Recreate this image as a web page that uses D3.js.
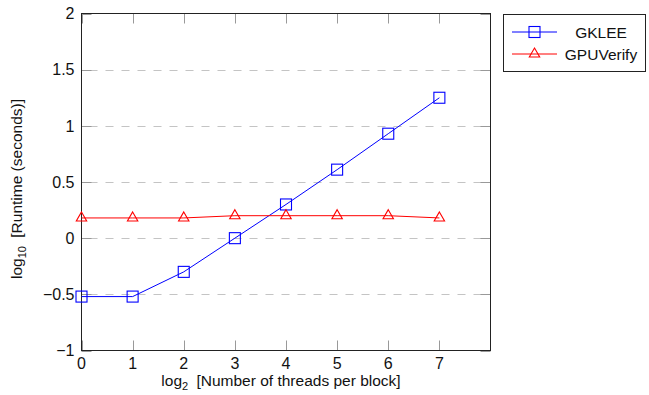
<!DOCTYPE html>
<html>
<head>
<meta charset="utf-8">
<script src="https://cdn.jsdelivr.net/npm/d3@7"></script>
<style>
  body { margin: 0; background: #fff; }
  svg { display: block; font-family: "Liberation Sans", Arial, sans-serif; }
</style>
</head>
<body>
<div id="chart"></div>
<script>
// data
const threads = [0, 1, 2, 3, 4, 5, 6, 7];          // log2 threads per block
const gklee = [-0.52, -0.52, -0.30, 0.0, 0.30, 0.61, 0.93, 1.25];
const gpuVerify = [0.18, 0.18, 0.18, 0.20, 0.20, 0.20, 0.20, 0.18];
const xTicks = [0, 1, 2, 3, 4, 5, 6, 7];
const yTicks = [-1, -0.5, 0, 0.5, 1, 1.5, 2];
const gridTicks = [-0.5, 0, 0.5, 1, 1.5];

const width = 649, height = 395;
const plotLeft = 81.5, plotTop = 13.5, plotRight = 490.5, plotBottom = 350.5;

const svg = d3.select("#chart").append("svg")
  .attr("width", width)
  .attr("height", height);

const x = d3.scaleLinear().domain([0, 8]).range([plotLeft, plotRight]);
const y = d3.scaleLinear().domain([-1, 2]).range([plotBottom, plotTop]);

// dashed grid
svg.append("g")
  .selectAll("line")
  .data(gridTicks)
  .enter().append("line")
  .attr("x1", plotLeft).attr("x2", plotRight)
  .attr("y1", d => Math.round(y(d)) + 0.5)
  .attr("y2", d => Math.round(y(d)) + 0.5)
  .attr("stroke", "#c4c4c4")
  .attr("stroke-width", 1.2)
  .attr("stroke-dasharray", "8,8")
  .attr("stroke-dashoffset", 8);

// inside ticks on all four sides
const tickLen = 10;
const tickG = svg.append("g").attr("stroke", "#999").attr("stroke-width", 1);
xTicks.forEach(t => {
  const px = Math.round(x(t)) + 0.5;
  tickG.append("line").attr("x1", px).attr("x2", px).attr("y1", plotBottom).attr("y2", plotBottom - tickLen);
  tickG.append("line").attr("x1", px).attr("x2", px).attr("y1", plotTop).attr("y2", plotTop + tickLen);
});
yTicks.forEach(t => {
  const py = Math.round(y(t)) + 0.5;
  tickG.append("line").attr("x1", plotLeft).attr("x2", plotLeft + tickLen).attr("y1", py).attr("y2", py);
  tickG.append("line").attr("x1", plotRight).attr("x2", plotRight - tickLen).attr("y1", py).attr("y2", py);
});

// frame
svg.append("rect")
  .attr("x", plotLeft).attr("y", plotTop)
  .attr("width", plotRight - plotLeft).attr("height", plotBottom - plotTop)
  .attr("fill", "none")
  .attr("stroke", "#222")
  .attr("stroke-width", 1);

// tick labels
const fmt = d => (d < 0 ? "\u2212" : "") + Math.abs(d);
svg.append("g")
  .selectAll("text")
  .data(yTicks)
  .enter().append("text")
  .attr("x", plotLeft - 7)
  .attr("y", d => y(d))
  .attr("dy", "0.36em")
  .attr("text-anchor", "end")
  .attr("font-size", 16)
  .attr("fill", "#111")
  .text(fmt);

svg.append("g")
  .selectAll("text")
  .data(xTicks)
  .enter().append("text")
  .attr("x", d => x(d))
  .attr("y", 368.5)
  .attr("text-anchor", "middle")
  .attr("font-size", 16)
  .attr("fill", "#111")
  .text(d => d);

// axis titles with subscripts
const xTitle = svg.append("text")
  .attr("x", 281).attr("y", 386)
  .attr("text-anchor", "middle")
  .attr("font-size", 15.5)
  .attr("fill", "#111");
xTitle.append("tspan").text("log");
xTitle.append("tspan").attr("font-size", 11).attr("dy", 4).text("2");
xTitle.append("tspan").attr("dy", -4).attr("dx", 4).text(" [Number of threads per block]");

const yTitle = svg.append("text")
  .attr("transform", "translate(22,189) rotate(-90)")
  .attr("text-anchor", "middle")
  .attr("font-size", 15.5)
  .attr("fill", "#111");
yTitle.append("tspan").text("log");
yTitle.append("tspan").attr("font-size", 11).attr("dy", 4).text("10");
yTitle.append("tspan").attr("dy", -4).attr("dx", 4).text(" [Runtime (seconds)]");

// series
const series = [
  { name: "GKLEE", values: gklee, color: "#0000ff", mark: "square" },
  { name: "GPUVerify", values: gpuVerify, color: "#ff0000", mark: "triangle" }
];

const line = d3.line()
  .x((d, i) => x(threads[i]))
  .y(d => y(d));

function drawMark(g, kind, cx, cy, color) {
  if (kind === "square") {
    g.append("rect")
      .attr("x", cx - 5.5).attr("y", cy - 5.5)
      .attr("width", 11).attr("height", 11)
      .attr("fill", "none").attr("stroke", color).attr("stroke-width", 1.1);
  } else {
    const r = 6;
    g.append("path")
      .attr("d", `M${cx},${cy - r}L${cx + 0.866 * r},${cy + 0.5 * r}L${cx - 0.866 * r},${cy + 0.5 * r}Z`)
      .attr("fill", "none").attr("stroke", color).attr("stroke-width", 1.1);
  }
}

series.forEach(s => {
  const g = svg.append("g");
  g.append("path")
    .datum(s.values)
    .attr("d", line)
    .attr("fill", "none")
    .attr("stroke", s.color)
    .attr("stroke-width", 1);
  s.values.forEach((v, i) => drawMark(g, s.mark, x(threads[i]), y(v), s.color));
});

// legend
const legend = svg.append("g");
legend.append("rect")
  .attr("x", 503.5).attr("y", 14.5)
  .attr("width", 142).attr("height", 57)
  .attr("fill", "#fff")
  .attr("stroke", "#222");

series.forEach((s, i) => {
  const ly = 32 + i * 22;
  legend.append("line")
    .attr("x1", 512).attr("x2", 557)
    .attr("y1", ly).attr("y2", ly)
    .attr("stroke", s.color);
  drawMark(legend, s.mark, 534.5, ly, s.color);
  legend.append("text")
    .attr("x", 601).attr("y", ly)
    .attr("dy", "0.36em")
    .attr("text-anchor", "middle")
    .attr("font-size", 15.5)
    .attr("fill", "#111")
    .text(s.name);
});
</script>
</body>
</html>
